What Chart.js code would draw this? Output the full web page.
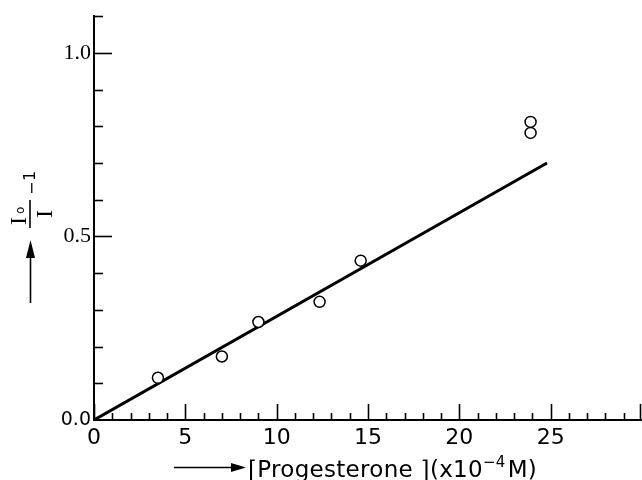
<!DOCTYPE html>
<html>
<head>
<meta charset="utf-8">
<script src="https://cdn.jsdelivr.net/npm/chart.js@4.4.0/dist/chart.umd.min.js"></script>
<style>
  html, body { margin: 0; padding: 0; background: #fff; }
  #wrap { width: 642px; height: 480px; }
</style>
</head>
<body>
<div id="wrap"><canvas id="canvas" width="642" height="480"></canvas></div>
<script>
// measured points: [Progesterone] (x10^-4 M) vs Io/I - 1
const concX = [3.5, 7.0, 9.0, 12.35, 14.6, 23.9, 23.9];
const ratioY = [0.115, 0.173, 0.267, 0.322, 0.434, 0.812, 0.782];

// fitted straight line
const fitX = [0, 24.8];
const fitY = [0, 0.70];

// axis ticks
const xTickLabels = [0, 5, 10, 15, 20, 25];
const yTickLabels = [0, 0.5, 1.0];
const xMinorTicks = [0,1,2,3,4,5,6,7,8,9,10,11,12,13,14,15,16,17,18,19,20,21,22,23,24,25,26,27,28,29,30];
const yMinorTicks = [0.1,0.2,0.3,0.4,0.5,0.6,0.7,0.8,0.9,1.0,1.1];

const canvas = document.getElementById("canvas");
const ctx = canvas.getContext("2d");

// inward tick marks + hand-lettered axis titles
const drafting = {
  id: 'drafting',
  afterDraw(chart) {
    const c = chart.ctx;
    const xs = chart.scales.x, ys = chart.scales.y;
    const area = chart.chartArea;
    c.save();
    c.strokeStyle = '#000';
    c.fillStyle = '#000';
    c.lineWidth = 1.6;

    // x ticks point up
    xMinorTicks.forEach(v => {
      const px = Math.min(Math.round(xs.getPixelForValue(v)) + 0.5, 640.5);
      const len = v % 5 === 0 ? 16 : 7;
      c.beginPath();
      c.moveTo(px, area.bottom);
      c.lineTo(px, area.bottom - len);
      c.stroke();
    });
    // y ticks point right
    yMinorTicks.forEach(v => {
      const py = Math.round(ys.getPixelForValue(v)) + 0.5;
      const major = Math.abs(v - 0.5) < 1e-6 || Math.abs(v - 1.0) < 1e-6;
      const len = major ? 18 : 9;
      c.beginPath();
      c.moveTo(area.left, py);
      c.lineTo(area.left + len, py);
      c.stroke();
    });

    // y title: (Io / I) - 1 with arrow, rotated
    c.save();
    c.translate(30, 214);
    c.rotate(-Math.PI / 2);
    c.lineWidth = 1.6;
    c.beginPath();
    c.moveTo(-14, 0);
    c.lineTo(14, 0);
    c.stroke();
    c.font = '24px "Liberation Serif"';
    c.textAlign = 'left';
    c.textBaseline = 'alphabetic';
    c.fillText('I', -11, -4);
    c.font = '12px "DejaVu Sans"';
    c.fillText('o', 0, -6);
    c.font = '24px "Liberation Serif"';
    c.textAlign = 'center';
    c.fillText('I', 0, 22);
    c.font = '16px "DejaVu Sans"';
    c.textAlign = 'left';
    c.fillText('\u2212', 19, 7);
    c.fillText('1', 33, 5);
    c.restore();

    c.lineWidth = 1.6;
    c.beginPath();
    c.moveTo(30.5, 303);
    c.lineTo(30.5, 252);
    c.stroke();
    c.beginPath();
    c.moveTo(30.5, 240);
    c.lineTo(26, 258);
    c.lineTo(35, 258);
    c.closePath();
    c.fill();

    // x title with arrow
    c.beginPath();
    c.moveTo(174, 467.5);
    c.lineTo(236, 467.5);
    c.stroke();
    c.beginPath();
    c.moveTo(246, 467.5);
    c.lineTo(231, 463);
    c.lineTo(231, 472);
    c.closePath();
    c.fill();

    c.textAlign = 'left';
    c.textBaseline = 'alphabetic';
    c.letterSpacing = '0.3px';
    let tx = 248;
    c.font = '23px "DejaVu Sans"';
    const part1 = '\u2308Progesterone \u2309(x10';
    c.fillText(part1, tx, 477);
    tx += c.measureText(part1).width;
    c.font = '15px "DejaVu Sans"';
    c.fillText('\u22124', tx, 467);
    tx += c.measureText('\u22124').width + 2;
    c.font = '23px "DejaVu Sans"';
    c.fillText('M)', tx, 477);
    c.restore();
  }
};

const chart = new Chart(ctx, {
  type: 'scatter',
  data: {
    datasets: [
      {
        label: 'measured',
        data: concX.map((x, i) => ({ x: x, y: ratioY[i] })),
        pointRadius: 5.5,
        pointHoverRadius: 5.5,
        pointBorderWidth: 1.5,
        borderColor: '#000',
        backgroundColor: '#fff',
        showLine: false
      },
      {
        label: 'fit',
        type: 'line',
        data: fitX.map((x, i) => ({ x: x, y: fitY[i] })),
        borderColor: '#000',
        borderWidth: 3,
        pointRadius: 0,
        fill: false
      }
    ]
  },
  options: {
    responsive: false,
    animation: false,
    events: [],
    layout: { autoPadding: false, padding: { top: 16, right: 0, left: 0, bottom: 0 } },
    plugins: { legend: { display: false }, tooltip: { enabled: false } },
    scales: {
      x: {
        type: 'linear',
        min: 0, max: 30,
        afterBuildTicks: s => { s.ticks = xTickLabels.map(v => ({ value: v })); },
        afterFit: s => { s.height = 60; s.paddingRight = 0; s.paddingLeft = 0; },
        ticks: {
          color: '#000',
          font: { family: 'DejaVu Sans', size: 22 },
          padding: 5,
          maxRotation: 0,
          autoSkip: false,
          callback: v => String(v)
        },
        grid: { display: true, drawOnChartArea: false, drawTicks: false },
        border: { color: '#000', width: 2 }
      },
      y: {
        type: 'linear',
        min: 0, max: 1.1,
        afterBuildTicks: s => { s.ticks = yTickLabels.map(v => ({ value: v })); },
        afterFit: s => { s.width = 94; },
        ticks: {
          color: '#000',
          padding: 3,
          autoSkip: false,
          font: c => c.tick && c.tick.value === 0
            ? { family: 'DejaVu Sans', size: 19 }
            : { family: 'Liberation Serif', size: 22 },
          callback: v => Number(v).toFixed(1)
        },
        grid: { display: true, drawOnChartArea: false, drawTicks: false },
        border: { color: '#000', width: 2 }
      }
    }
  },
  plugins: [drafting]
});
</script>
</body>
</html>
